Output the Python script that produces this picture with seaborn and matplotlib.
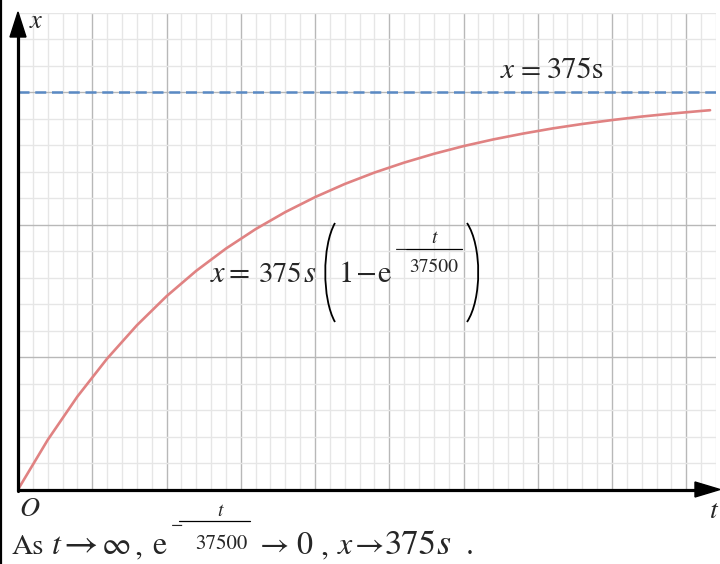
import numpy as np
import pandas as pd
import matplotlib
matplotlib.use("Agg")
import matplotlib.pyplot as plt
from matplotlib.patches import Polygon, PathPatch
from matplotlib.path import Path
from matplotlib.lines import Line2D
import seaborn as sns

# ---- data ----
t_values = [0, 5000, 10000, 15000, 20000, 25000, 30000, 35000, 40000, 45000,
            50000, 55000, 60000, 65000, 70000, 75000, 80000, 85000, 90000,
            95000, 100000, 105000, 110000, 115000, 116500]
x_values = [0.0, 46.8, 87.8, 123.6, 155.0, 182.5, 206.5, 227.5, 245.9, 262.0,
            276.1, 288.5, 299.3, 308.7, 317.0, 324.3, 330.6, 336.1, 341.0,
            345.2, 348.9, 352.2, 355.0, 357.5, 358.2]
asymptote = 375
t_major, t_minor = 12500, 2500
x_major, x_minor = 125, 25

sns.set_theme(style="white")
plt.rcParams["mathtext.fontset"] = "stix"
plt.rcParams["font.family"] = ["STIXGeneral", "Liberation Serif", "DejaVu Serif"]

W, H = 720, 564
fig = plt.figure(figsize=(W / 100, H / 100), dpi=100)
fig.patch.set_facecolor("white")

# grid region in pixels (top-left origin)
ox, oy = 18, 489.5
right_px, top_px = 716, 13
px_per_t = 75 / t_major
px_per_x = 26.6 / x_minor

ax = fig.add_axes([ox / W, (H - oy) / H, (right_px - ox) / W, (oy - top_px) / H])
ax.set_xlim(0, (right_px - ox) / px_per_t)
ax.set_ylim(0, (oy - top_px) / px_per_x)
ax.set_xticks(np.arange(0, 120000, t_major))
ax.set_xticks(np.arange(0, 120000, t_minor), minor=True)
ax.set_yticks(np.arange(0, 460, x_major))
ax.set_yticks(np.arange(0, 460, x_minor), minor=True)
ax.grid(which="minor", color="#e6e6e6", lw=1.0)
ax.grid(which="major", color="#b8b8b8", lw=1.0)
ax.tick_params(which="both", length=0, labelbottom=False, labelleft=False)
for s in ax.spines.values():
    s.set_visible(False)
ax.set_facecolor("white")
ax.set_axisbelow(True)

df = pd.DataFrame({"t": t_values, "x": x_values})
sns.lineplot(data=df, x="t", y="x", ax=ax, color="#e08282", lw=1.9)
ax.axhline(asymptote, color="#5a8ac4", lw=1.8, dashes=(4.4, 2.3))
ax.set_xlabel("")
ax.set_ylabel("")

def fx(px):
    return px / W

def fy(py):
    return (H - py) / H

def ftext(px, py, s, size, italic=False, ha="left"):
    fig.text(fx(px), fy(py), s, fontsize=size, ha=ha, va="baseline",
             family=["STIXGeneral", "DejaVu Serif"],
             style="italic" if italic else "normal")

def fline(x0, x1, y, lw=1.0):
    fig.add_artist(Line2D([fx(x0), fx(x1)], [fy(y), fy(y)], color="black", lw=lw,
                          transform=fig.transFigure))

def paren(xt, xm, ytop, ybot):
    ym1 = ytop + (ybot - ytop) * 0.23
    ym2 = ytop + (ybot - ytop) * 0.77
    verts = [(fx(xt), fy(ytop)), (fx(xm), fy(ym1)), (fx(xm), fy(ym2)), (fx(xt), fy(ybot))]
    codes = [Path.MOVETO, Path.CURVE4, Path.CURVE4, Path.CURVE4]
    fig.add_artist(PathPatch(Path(verts, codes), fill=False, lw=1.3, color="black",
                             transform=fig.transFigure))

# axes with arrows
fig.add_artist(Line2D([fx(ox), fx(697)], [fy(oy), fy(oy)], color="black", lw=2.3,
                      transform=fig.transFigure))
fig.add_artist(Polygon([[fx(695), fy(oy - 7.5)], [fx(720), fy(oy)], [fx(695), fy(oy + 7.5)]],
                       closed=True, color="black", transform=fig.transFigure))
fig.add_artist(Line2D([fx(ox), fx(ox)], [fy(oy + 1), fy(35)], color="black", lw=2.3,
                      transform=fig.transFigure))
fig.add_artist(Polygon([[fx(ox - 8), fy(37)], [fx(ox), fy(12)], [fx(ox + 8), fy(37)]],
                       closed=True, color="black", transform=fig.transFigure))
# left border
fig.add_artist(Line2D([fx(0.8), fx(0.8)], [0, 1], color="black", lw=1.6,
                      transform=fig.transFigure))

# axis labels
ftext(30, 28, "x", 19, italic=True)
ftext(19, 516, "O", 20, italic=True)
ftext(710, 518, "t", 20, italic=True)

# asymptote label
ftext(501, 78, "x", 21, italic=True)
ftext(521, 78, "=", 21)
ftext(547, 78, "375s", 22)

# curve formula
FS = 22
base = 282
ftext(211, base, "x", FS, italic=True)
ftext(229, base, "=", FS)
ftext(259, base, "375", 21)
ftext(304, base, "s", FS, italic=True)
paren(335, 322, 223, 322)
ftext(339, base, "1", FS)
ftext(356, base, "\u2212", FS)
ftext(377, base, "e", FS)
ftext(395, 254, "\u2212", 13)
fline(406, 462, 249, lw=0.9)
ftext(434, 243, "t", 14, italic=True, ha="center")
ftext(434, 272, "37500", 14, ha="center")
paren(467, 482, 223, 322)

# bottom sentence
FB = 23
bb = 554
ftext(12, bb, "As", 21)
ftext(52, bb, "t", FB, italic=True)
ftext(63, bb, "\u2192", 27)
ftext(102, bb, "\u221e", FB)
ftext(134, bb, ",", FB)
ftext(152, bb, "e", FB)
ftext(171, 530, "\u2212", 13)
fline(179, 250, 521, lw=0.9)
ftext(220, 516, "t", 14, italic=True, ha="center")
ftext(221, 549, "37500", 15, ha="center")
ftext(260, bb, "\u2192", FB)
ftext(296, bb, "0", FB)
ftext(320, bb, ",", FB)
ftext(338, bb, "x", FB, italic=True)
ftext(355, bb, "\u2192", FB)
ftext(385, bb, "375", 25)
ftext(436, bb, "s", 26, italic=True)
ftext(466, bb, ".", FB)

fig.savefig("out.png", dpi=100, facecolor="white")
